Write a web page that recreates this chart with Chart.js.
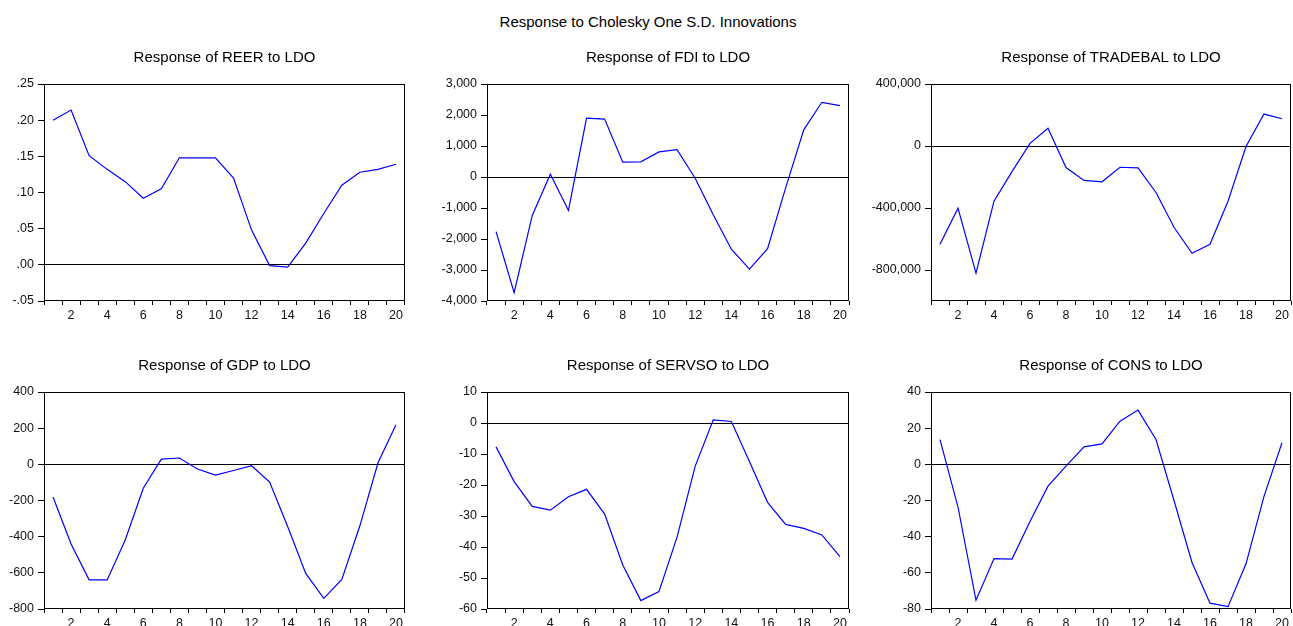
<!DOCTYPE html>
<html>
<head>
<meta charset="utf-8">
<title>Response to Cholesky One S.D. Innovations</title>
<script src="https://cdn.jsdelivr.net/npm/chart.js@4.4.1/dist/chart.umd.min.js"></script>
<style>
  html, body { margin: 0; padding: 0; background: #fff; overflow: hidden; }
  body { width: 1293px; height: 626px; position: relative; }
  #mainTitle {
    position: absolute; left: 0; top: 13px; width: 1296px;
    text-align: center; font: 15px Arial, "Liberation Sans", sans-serif;
    line-height: 18px; color: #000;
  }
  .panel { position: absolute; }
</style>
</head>
<body>
<div id="mainTitle">Response to Cholesky One S.D. Innovations</div>
<div class="panel" style="left:0px;top:40px;width:430px;height:290px"><canvas id="reer"></canvas></div>
<div class="panel" style="left:430px;top:40px;width:430px;height:290px"><canvas id="fdi"></canvas></div>
<div class="panel" style="left:860px;top:40px;width:433px;height:290px"><canvas id="tradebal"></canvas></div>
<div class="panel" style="left:0px;top:348px;width:430px;height:290px"><canvas id="gdp"></canvas></div>
<div class="panel" style="left:430px;top:348px;width:430px;height:290px"><canvas id="servso"></canvas></div>
<div class="panel" style="left:860px;top:348px;width:433px;height:290px"><canvas id="cons"></canvas></div>

<script>
// periods 1..20
var periods = [1, 2, 3, 4, 5, 6, 7, 8, 9, 10, 11, 12, 13, 14, 15, 16, 17, 18, 19, 20];

// impulse responses
var reer = [0.200, 0.214, 0.151, 0.132, 0.115, 0.092, 0.105, 0.148, 0.148, 0.148,
            0.120, 0.048, -0.001, -0.003, 0.030, 0.071, 0.110, 0.128, 0.132, 0.139];
var fdi = [-1760, -3730, -1240, 90, -1080, 1900, 1870, 480, 490, 810,
           880, -40, -1220, -2330, -2970, -2310, -350, 1520, 2410, 2300];
var tradebal = [-634000, -401000, -821000, -356000, -165000, 17000, 115000, -139000, -222000, -231000,
                -137000, -141000, -300000, -524000, -692000, -634000, -356000, -3000, 206000, 176000];
var gdp = [-181, -440, -639, -639, -418, -132, 29, 35, -26, -60,
           -34, -8, -98, -344, -603, -741, -636, -340, 7, 219];
var servso = [-7.7, -18.9, -26.9, -28.1, -23.8, -21.4, -29.4, -45.8, -57.3, -54.4,
              -36.8, -14.0, 1.0, 0.5, -12.4, -25.6, -32.7, -34.0, -36.1, -43.1];
var cons = [13.7, -23.6, -75.2, -52.1, -52.4, -31.6, -12.1, -1.0, 9.7, 11.3,
            23.9, 30.0, 13.7, -20.0, -54.3, -76.8, -78.7, -55.0, -17.7, 11.9];

// y tick values and axis ranges
var reerTicks = [-0.05, 0, 0.05, 0.10, 0.15, 0.20, 0.25];
var fdiTicks = [-4000, -3000, -2000, -1000, 0, 1000, 2000, 3000];
var tradebalTicks = [-800000, -400000, 0, 400000];
var gdpTicks = [-800, -600, -400, -200, 0, 200, 400];
var servsoTicks = [-60, -50, -40, -30, -20, -10, 0, 10];
var consTicks = [-80, -60, -40, -20, 0, 20, 40];
var reerRange = [-0.05, 0.25];
var fdiRange = [-4000, 3000];
var tradebalRange = [-1000000, 400000];
var gdpRange = [-800, 400];
var servsoRange = [-60, 10];
var consRange = [-80, 40];

var FONT = 'Arial, "Liberation Sans", sans-serif';

function fmtDec(v) {
  var s = Math.abs(v).toFixed(2).replace(/^0/, "");
  return (v < 0 ? "-" : "") + s;
}
function fmtInt(v) {
  return String(Math.round(v)).replace(/\B(?=(\d{3})+(?!\d))/g, ",");
}

// frame around plot area + title centred on it
var framePlugin = {
  id: "frame",
  afterDraw: function (chart) {
    var a = chart.chartArea, c = chart.ctx;
    c.save();
    c.strokeStyle = "#000";
    c.lineWidth = 1;
    c.strokeRect(a.left + 0.5, a.top + 0.5, a.right - a.left - 1, a.bottom - a.top - 1);
    c.fillStyle = "#000";
    c.font = "15px " + FONT;
    c.textAlign = "center";
    c.textBaseline = "alphabetic";
    c.fillText(chart.options.plugins.panelTitle.text, (a.left + a.right) / 2, a.top - 22);
    c.restore();
  },
};

function makePanel(id, title, values, ticks, range, fmt, axisWidth, padRight) {
  new Chart(document.getElementById(id), {
    type: "line",
    data: {
      labels: periods,
      datasets: [
        {
          data: values,
          borderColor: "#0000ff",
          borderWidth: 1.2,
          pointRadius: 0,
          tension: 0,
          fill: false,
        },
      ],
    },
    options: {
      responsive: true,
      maintainAspectRatio: false,
      animation: false,
      layout: { padding: { top: 44, right: padRight, left: 0, bottom: 0 } },
      plugins: {
        legend: { display: false },
        tooltip: { enabled: false },
        panelTitle: { text: title },
      },
      scales: {
        x: {
          type: "category",
          offset: true,
          border: { display: false },
          grid: {
            offset: true,
            drawOnChartArea: false,
            drawTicks: true,
            tickLength: 4,
            color: "#000",
            tickColor: "#000",
          },
          ticks: {
            autoSkip: false,
            maxRotation: 0,
            padding: 3,
            color: "#111",
            font: { family: FONT, size: 12.5 },
            callback: function (v, i) {
              return periods[i] % 2 === 0 ? String(periods[i]) : "";
            },
          },
          afterFit: function (s) { s.height = 29; },
        },
        y: {
          type: "linear",
          min: range[0],
          max: range[1],
          border: { display: false },
          afterBuildTicks: function (s) {
            s.ticks = ticks.map(function (v) { return { value: v }; });
          },
          afterFit: function (s) { s.width = axisWidth; },
          grid: {
            drawTicks: true,
            tickLength: 6,
            color: function (c) {
              return c.tick && c.tick.value === 0 ? "#000" : "rgba(0,0,0,0)";
            },
            tickColor: "#000",
          },
          ticks: {
            padding: 4,
            color: "#111",
            font: { family: FONT, size: 12.5 },
            callback: function (v) { return fmt(v); },
          },
        },
      },
    },
    plugins: [framePlugin],
  });
}

makePanel("reer", "Response of REER to LDO", reer, reerTicks, reerRange, fmtDec, 44, 25);
makePanel("fdi", "Response of FDI to LDO", fdi, fdiTicks, fdiRange, fmtInt, 57, 11);
makePanel("tradebal", "Response of TRADEBAL to LDO", tradebal, tradebalTicks, tradebalRange, fmtInt, 71, 2);
makePanel("gdp", "Response of GDP to LDO", gdp, gdpTicks, gdpRange, fmtInt, 44, 25);
makePanel("servso", "Response of SERVSO to LDO", servso, servsoTicks, servsoRange, fmtInt, 57, 11);
makePanel("cons", "Response of CONS to LDO", cons, consTicks, consRange, fmtInt, 71, 2);
</script>
</body>
</html>
